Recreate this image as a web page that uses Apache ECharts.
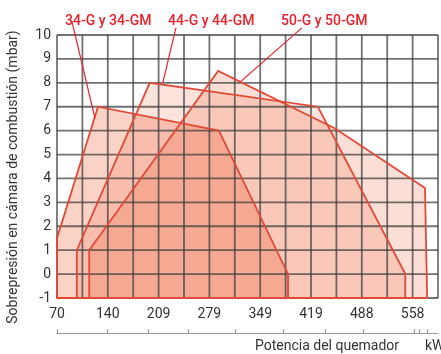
<!DOCTYPE html>
<html>
<head>
<meta charset="utf-8">
<script src="https://cdn.jsdelivr.net/npm/echarts@6/dist/echarts.min.js"></script>
<style>
  html, body { margin: 0; padding: 0; background: #ffffff; }
  #chart { width: 441px; height: 354px; }
</style>
</head>
<body>
<div id="chart"></div>
<script>
// Working fields (burner output kW, combustion chamber back-pressure mbar)
const field34 = [[69.75, -1], [69.75, 1.5], [126, 7], [292, 6], [387, 0], [387, -1]];
const field44 = [[97, -1], [97, 1], [197, 8], [428, 7], [548, 0], [548, -1]];
const field50 = [[114, -1], [114, 1], [291, 8.5], [451, 6.1], [575, 3.6], [578, -1]];

// Callout leaders: label anchor -> point on the field outline
const leader34 = [[90, 10.6], [122, 6.5]];
const leader44 = [[233, 10.3], [215, 8]];
const leader50 = [[406, 10.3], [321, 8.03]];

const modelNames = ['34-G y 34-GM', '44-G y 44-GM', '50-G y 50-GM'];

// Axis scale
const xStep = 34.875;                 // half of one labelled division (60 000 kcal/h)
const xMin = 2 * xStep;               // 69.75 kW
const xMax = 17 * xStep;              // 592.875 kW
const xTickLabels = ['70', '140', '209', '279', '349', '419', '488', '558'];
const yMin = -1, yMax = 10;
// Marks on the secondary scale under the chart
const secondaryTicks = [69.75, 138.4, 194.7, 249.6, 314.2, 380.1, 437.7, 490, 560, 566.8, 577.8];

const FONT = 'Roboto';
const RED = '#e8212b';
const EDGE = '#e14a38';
const GRID_LINE = 'rgba(60, 60, 60, 0.72)';

// Grid rulings at every axis step, laid over the filled fields
const gridX = [];
for (let k = 2; k <= 17; k++) gridX.push(k * xStep);
const gridY = [];
for (let v = yMin; v <= yMax; v++) gridY.push(v);

function polygonSeries(points, fill, outline) {
  return {
    type: 'custom',
    data: points,
    encode: { x: 0, y: 1 },
    z: outline ? 8 : 2,
    renderItem: function (params, api) {
      if (params.dataIndex !== 0) return null;
      const style = outline
        ? { fill: null, stroke: EDGE, lineWidth: 1.8 }
        : { fill: fill, stroke: null };
      return {
        type: 'polygon',
        shape: { points: points.map(function (p) { return api.coord(p); }) },
        style: style
      };
    }
  };
}

function gridSeries() {
  return {
    type: 'custom',
    data: [[xMin, yMin]],
    encode: { x: 0, y: 1 },
    z: 5,
    renderItem: function (params, api) {
      const children = [];
      gridX.forEach(function (x) {
        const a = api.coord([x, yMin]), b = api.coord([x, yMax]);
        children.push({ type: 'line', shape: { x1: a[0], y1: a[1], x2: b[0], y2: b[1] }, style: { stroke: GRID_LINE, lineWidth: 1.8 } });
      });
      gridY.forEach(function (y) {
        const a = api.coord([xMin, y]), b = api.coord([xMax, y]);
        children.push({ type: 'line', shape: { x1: a[0], y1: a[1], x2: b[0], y2: b[1] }, style: { stroke: GRID_LINE, lineWidth: 1.8 } });
      });
      return { type: 'group', children: children };
    }
  };
}

function leaderSeries(points) {
  return {
    type: 'line',
    data: points,
    symbol: 'none',
    clip: false,
    z: 9,
    lineStyle: { color: RED, width: 1.2 }
  };
}

const chart = echarts.init(document.getElementById('chart'), null, { renderer: 'canvas' });

chart.setOption({
  animation: false,
  grid: { left: 57, right: 3, top: 35, bottom: 56, containLabel: false },
  title: [
    { text: modelNames[0], left: 60, top: 9, textStyle: { color: RED, fontSize: 14, fontWeight: 500, fontFamily: FONT } },
    { text: modelNames[1], left: 163, top: 9, textStyle: { color: RED, fontSize: 14, fontWeight: 500, fontFamily: FONT } },
    { text: modelNames[2], left: 276, top: 9, textStyle: { color: RED, fontSize: 14, fontWeight: 500, fontFamily: FONT } },
    { text: 'Potencia del quemador', left: 250, top: 334, textStyle: { color: '#333', fontSize: 14, fontWeight: 'normal', fontFamily: FONT } },
    { text: 'kW', left: 420, top: 334, textStyle: { color: '#333', fontSize: 14, fontWeight: 'normal', fontFamily: FONT } }
  ],
  graphic: [{
    type: 'text',
    x: 13,
    y: 177,
    rotation: Math.PI / 2,
    style: {
      text: 'Sobrepresión en cámara de combustión (mbar)',
      font: '14px ' + FONT,
      fill: '#333',
      align: 'center',
      verticalAlign: 'middle'
    }
  }],
  xAxis: [{
    type: 'value',
    min: xMin,
    max: xMax,
    interval: xStep,
    axisLine: { show: false },
    axisTick: { show: false },
    axisLabel: {
      color: '#333',
      fontSize: 14,
      fontFamily: FONT,
      margin: 9,
      formatter: function (v) {
        const k = Math.round((v - xMin) / xStep);
        return (k % 2 === 0 && k / 2 < xTickLabels.length) ? xTickLabels[k / 2] : '';
      }
    },
    splitLine: { show: false }
  }, {
    type: 'value',
    min: xMin,
    max: xMax,
    position: 'bottom',
    offset: 35,
    axisLine: { show: true, lineStyle: { color: '#9a9a9a', width: 1 } },
    axisTick: { show: true, inside: true, length: 4, customValues: secondaryTicks, lineStyle: { color: '#9a9a9a', width: 1 } },
    axisLabel: { show: false },
    splitLine: { show: false }
  }],
  yAxis: {
    type: 'value',
    min: yMin,
    max: yMax,
    interval: 1,
    axisLine: { show: false },
    axisTick: { show: false },
    axisLabel: { color: '#333', fontSize: 14, fontFamily: FONT, margin: 6 },
    splitLine: { show: false }
  },
  series: [
    polygonSeries(field34, 'rgba(235, 90, 45, 0.27)', false),
    polygonSeries(field44, 'rgba(235, 90, 45, 0.17)', false),
    polygonSeries(field50, 'rgba(235, 90, 45, 0.20)', false),
    gridSeries(),
    polygonSeries(field34, null, true),
    polygonSeries(field44, null, true),
    polygonSeries(field50, null, true),
    leaderSeries(leader34),
    leaderSeries(leader44),
    leaderSeries(leader50)
  ]
});
</script>
</body>
</html>
